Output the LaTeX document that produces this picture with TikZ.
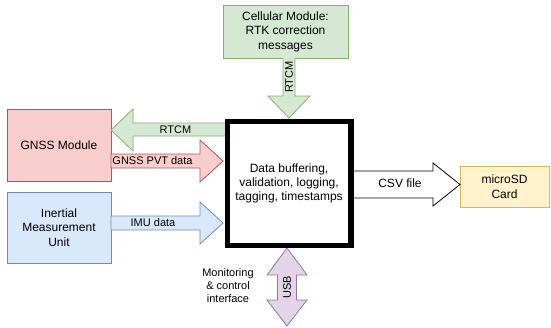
\documentclass[tikz,border=0pt]{standalone}
\usepackage{fontspec}
\setmainfont{Liberation Sans}
\begin{document}
\begin{tikzpicture}[x=1pt,y=-1pt,
  box/.style={draw, line width=0.8pt, align=center, inner sep=0pt, font=\fontsize{12}{14.5}\selectfont},
  lbl/.style={inner sep=0pt, font=\fontsize{11}{13}\selectfont},
  green/.style={fill=gfill, draw=gline},
  red/.style={fill=rfill, draw=rline},
  blue/.style={fill=bfill, draw=bline},
  arr/.style={line width=0.8pt, line join=miter}
]
\definecolor{gfill}{HTML}{D5E8D4}\definecolor{gline}{HTML}{82B366}
\definecolor{rfill}{HTML}{F8CECC}\definecolor{rline}{HTML}{B85450}
\definecolor{bfill}{HTML}{DAE8FC}\definecolor{bline}{HTML}{6C8EBF}
\definecolor{yfill}{HTML}{FFF2CC}\definecolor{yline}{HTML}{D6B656}
\definecolor{pfill}{HTML}{E1D5E7}\definecolor{pline}{HTML}{9673A6}
\useasboundingbox (0,0) rectangle (551,327);

% boxes
\node[box, green, minimum width=125pt, minimum height=53pt] (cell) at (285.5,31.5) {Cellular Module:\\RTK correction\\messages};
\node[box, red, minimum width=104pt, minimum height=72pt] (gnss) at (59,145) {GNSS Module};
\node[box, blue, minimum width=104pt, minimum height=71pt] (imu) at (59,227.5) {Inertial\\Measurement\\Unit};
\node[box, fill=yfill, draw=yline, minimum width=89pt, minimum height=41pt] (sd) at (504.5,186.5) {microSD\\Card};

% arrows (drawn before main box)
% RTCM down
\draw[arr, green] (283,58) -- (283,96) -- (268,96) -- (289,118) -- (310,96) -- (295,96) -- (295,58);
\node[lbl, rotate=90] (rtcmdown) at (289,77) {RTCM};
% RTCM left
\draw[arr, green] (228,123) -- (133,123) -- (133,109) -- (111,130) -- (133,151) -- (133,136) -- (228,136) ;
\node[lbl] (rtcmleft) at (175.5,129.5) {RTCM};
% GNSS PVT
\draw[arr, red] (111,154) -- (200,154) -- (200,140) -- (223,161) -- (200,182) -- (200,168) -- (111,168) -- cycle;
\node[lbl] (pvt) at (152.5,161) {GNSS PVT data};
% IMU
\draw[arr, blue] (111,216) -- (200,216) -- (200,202) -- (223,223) -- (200,244) -- (200,230) -- (111,230) -- cycle;
\node[lbl] (imudata) at (153,223) {IMU data};
% CSV
\draw[arr, draw=black, fill=white] (351,171) -- (433,171) -- (433,163) -- (460,184.5) -- (433,206) -- (433,198) -- (351,198);
\node[inner sep=0pt, font=\fontsize{12}{14}\selectfont] (csv) at (400,183) {CSV file};
% USB
\draw[arr, fill=pfill, draw=pline] (287,248) -- (307,275) -- (296.5,275) -- (296.5,300) -- (307,300) -- (287,326) -- (267,300) -- (277.5,300) -- (277.5,275) -- (267,275) -- cycle;
\node[lbl, rotate=90] (usb) at (287,287.5) {USB};
\node[lbl, align=center, font=\fontsize{11}{13}\selectfont] (mon) at (228,286) {Monitoring\\\&~control\\interface};

% main box
\node[draw=black, fill=white, line width=5.5pt, minimum width=123.5pt, minimum height=123.8pt, inner sep=0pt, align=center, font=\fontsize{12}{14.2}\selectfont] (main) at (289.05,183.6) {Data buffering,\\validation, logging,\\tagging, timestamps};
\end{tikzpicture}
\end{document}
